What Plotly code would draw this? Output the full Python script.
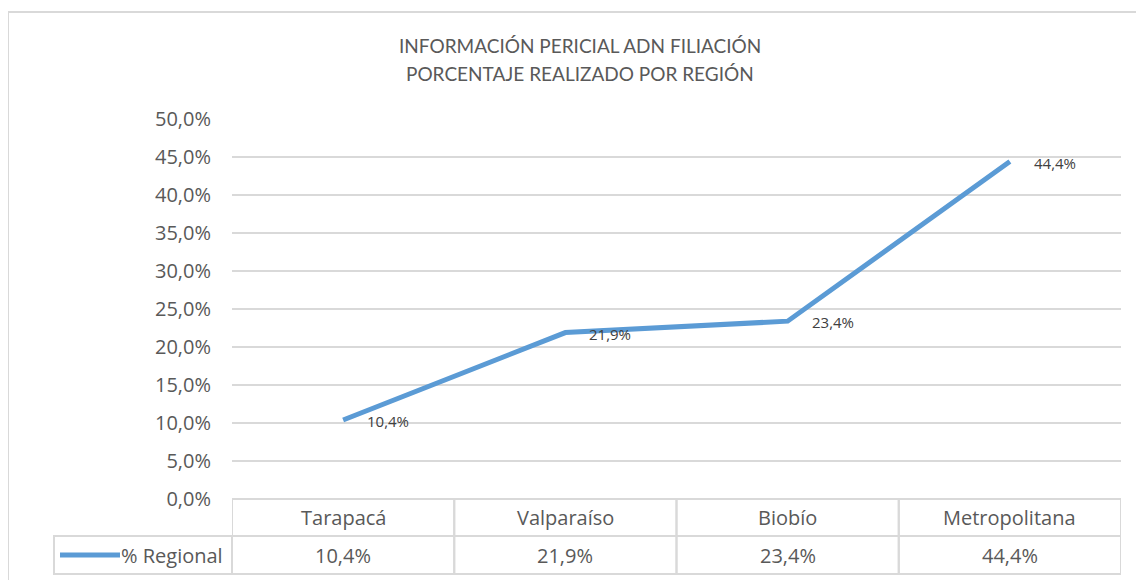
import plotly.graph_objects as go

REGIONS = ["Tarapacá", "Valparaíso", "Biobío", "Metropolitana"]
PCT_REGIONAL = [10.4, 21.9, 23.4, 44.4]
SERIES_NAME = "% Regional"
TITLE_LINES = ["INFORMACIÓN PERICIAL ADN FILIACIÓN", "PORCENTAJE REALIZADO POR REGIÓN"]

LINE_COLOR = "#5B9BD5"
GRID = "#d9d9d9"
TEXT = "#595959"
FONT = "Open Sans"

# plot box in px, used to place the data table under the axis
# (the page body adds an 8px margin, so the figure is 8px smaller)
PLOT_W = 889
PLOT_H = 380
ROW1 = 37 / PLOT_H
ROW2 = 75 / PLOT_H
ROW2_MID = -(ROW1 + ROW2) / 2


def fmt(v):
    return f"{v:.1f}".replace(".", ",") + "%"


xs = list(range(len(REGIONS)))

fig = go.Figure(go.Scatter(
    x=xs, y=PCT_REGIONAL, mode="lines", name=SERIES_NAME,
    line=dict(color=LINE_COLOR, width=5),
    showlegend=False, hoverinfo="skip",
))

# data labels to the right of each point
annotations = []
for x, v in zip(xs, PCT_REGIONAL):
    annotations.append(dict(
        x=x, y=v, xref="x", yref="y", text=fmt(v), showarrow=False,
        xanchor="left", yanchor="middle", xshift=22, yshift=-1,
        font=dict(family=FONT, size=15, color="#404040"),
    ))

# data table under the axis
shapes = []
for x, name, v in zip(xs, REGIONS, PCT_REGIONAL):
    shapes.append(dict(type="rect", xref="x", yref="paper",
                       x0=x - 0.5, x1=x + 0.5, y0=-ROW1, y1=0,
                       line=dict(color=GRID, width=2)))
    shapes.append(dict(type="rect", xref="x", yref="paper",
                       x0=x - 0.5, x1=x + 0.5, y0=-ROW2, y1=-ROW1,
                       line=dict(color=GRID, width=2)))
    annotations.append(dict(x=x, y=-ROW1 / 2, xref="x", yref="paper", text=name,
                            xanchor="center", yanchor="middle", showarrow=False,
                            font=dict(family=FONT, size=20, color=TEXT)))
    annotations.append(dict(x=x, y=ROW2_MID, xref="x", yref="paper", text=fmt(v),
                            xanchor="center", yanchor="middle", showarrow=False,
                            font=dict(family=FONT, size=20, color=TEXT)))

# legend key cell
shapes.append(dict(type="rect", xref="paper", yref="paper",
                   x0=-178 / PLOT_W, x1=0, y0=-ROW2, y1=-ROW1,
                   line=dict(color=GRID, width=2)))
shapes.append(dict(type="line", xref="paper", yref="paper",
                   x0=-172 / PLOT_W, x1=-112 / PLOT_W, y0=ROW2_MID, y1=ROW2_MID,
                   line=dict(color=LINE_COLOR, width=5)))
annotations.append(dict(x=-7 / PLOT_W, y=ROW2_MID, xref="paper", yref="paper",
                        text=SERIES_NAME, showarrow=False,
                        xanchor="right", yanchor="middle",
                        font=dict(family=FONT, size=20, color=TEXT)))

# chart frame
shapes.append(dict(type="rect", xref="paper", yref="paper",
                   x0=-224 / PLOT_W, x1=1.2, y0=-0.4, y1=487 / PLOT_H,
                   line=dict(color=GRID, width=2), layer="below"))

# two-line title, centred on the chart frame
for line, ypx in zip(TITLE_LINES, [46, 74]):
    annotations.append(dict(x=(580 - 232) / PLOT_W, y=(499 - ypx) / PLOT_H,
                            xref="paper", yref="paper", text=line, showarrow=False,
                            xanchor="center", yanchor="middle",
                            font=dict(family="Lato", size=19, color=TEXT)))

fig.update_layout(
    width=1136, height=572,
    margin=dict(l=224, r=23, t=111, b=81),
    paper_bgcolor="white", plot_bgcolor="white",
    separators=",.",
    shapes=shapes, annotations=annotations,
    xaxis=dict(range=[-0.5, len(REGIONS) - 0.5], showticklabels=False,
               showgrid=False, zeroline=False, fixedrange=True),
    yaxis=dict(range=[0, 50], dtick=5, tickformat=".1f", ticksuffix="%",
               showgrid=True, gridcolor=GRID, gridwidth=1.5,
               zeroline=True, zerolinecolor=GRID, zerolinewidth=1.5,
               ticklabelstandoff=20,
               tickfont=dict(family=FONT, size=20, color=TEXT), fixedrange=True),
)

fig.write_html("out.html")
